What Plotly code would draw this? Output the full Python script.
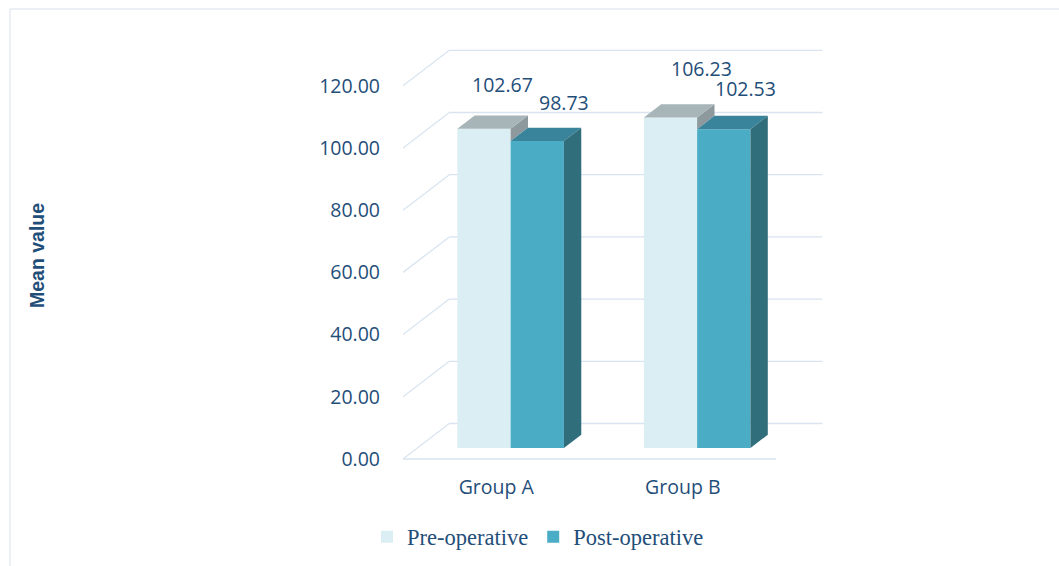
import plotly.graph_objects as go

# ---- data -------------------------------------------------------------
groups = ["Group A", "Group B"]
series_names = ["Pre-operative", "Post-operative"]
pre_values = [102.67, 106.23]
post_values = [98.73, 102.53]
y_tick_values = [0, 20, 40, 60, 80, 100, 120]

# ---- styling ------------------------------------------------------------
TEXT_BLUE = "#1F4E79"
GRID_COLOR = "#D9E4F1"
FRAME_COLOR = "#D9E1EC"
FACE_COLORS = {
    "Pre-operative": {"front": "#DBEEF4", "top": "#A7B4B8", "side": "#8D999C"},
    "Post-operative": {"front": "#4BACC6", "top": "#39849A", "side": "#306E7C"},
}
SANS = "Open Sans"

# ---- page geometry (pixels) -------------------------------------------------
FIG_W, FIG_H = 1059, 566
PLOT_L, PLOT_R, PLOT_T, PLOT_B = 403, 832, 30, 470
FLOOR_PX = 459                       # pixel row of value 0 on the front plane
X_RANGE = (-0.5, 1.8)
PX_PER_X = (PLOT_R - PLOT_L) / (X_RANGE[1] - X_RANGE[0])
PX_PER_Y = 3.11
Y_RANGE = (-(PLOT_B - FLOOR_PX) / PX_PER_Y, (FLOOR_PX - PLOT_T) / PX_PER_Y)

# oblique projection of the chart depth (full floor depth)
DEPTH_DX = 46.3 / PX_PER_X
DEPTH_DY = 35.5 / PX_PER_Y
BAR_W = 53.3 / PX_PER_X
BAR_FRONT = 0.31                     # depth fraction of the bars' front faces
BAR_DEPTH = 0.375                    # depth fraction occupied by each bar


def paper_x(px):
    return (px - PLOT_L) / (PLOT_R - PLOT_L)


def paper_y(py):
    return (PLOT_B - py) / (PLOT_B - PLOT_T)


fig = go.Figure()

# ---- walls: left-side diagonals, back-wall grid and the front floor edge ----
floor_left, floor_right = -0.5, 1.5
shapes = []
for v in y_tick_values:
    shapes.append(dict(type="line", xref="x", yref="y", layer="below",
                       x0=floor_left, y0=v,
                       x1=floor_left + DEPTH_DX, y1=v + DEPTH_DY,
                       line=dict(color=GRID_COLOR, width=1.3)))
    shapes.append(dict(type="line", xref="x", yref="y", layer="below",
                       x0=floor_left + DEPTH_DX, y0=v + DEPTH_DY,
                       x1=floor_right + DEPTH_DX, y1=v + DEPTH_DY,
                       line=dict(color=GRID_COLOR, width=1.3)))
shapes.append(dict(type="line", xref="x", yref="y", layer="below",
                   x0=floor_left, y0=0, x1=floor_right, y1=0,
                   line=dict(color=GRID_COLOR, width=1.3)))

# outer chart frame
shapes.append(dict(type="rect", xref="paper", yref="paper", layer="below",
                   x0=paper_x(10), y0=paper_y(600), x1=paper_x(1100), y1=paper_y(9),
                   line=dict(color=FRAME_COLOR, width=1), fillcolor="rgba(0,0,0,0)"))

# ---- bars ----------------------------------------------------------------
fx = BAR_FRONT * DEPTH_DX
fy = BAR_FRONT * DEPTH_DY
bdx = BAR_DEPTH * DEPTH_DX
bdy = BAR_DEPTH * DEPTH_DY
positions = list(range(len(groups)))

series = [("Pre-operative", pre_values, -1), ("Post-operative", post_values, 0)]

# front faces
for name, values, slot in series:
    lefts = [g + slot * BAR_W + fx for g in positions]
    fig.add_trace(go.Bar(
        name=name,
        x=[l + BAR_W / 2 for l in lefts],
        y=values,
        base=[fy] * len(values),
        width=BAR_W,
        marker=dict(color=FACE_COLORS[name]["front"], line=dict(width=0)),
        hoverinfo="skip",
    ))


def face(xs, ys, color):
    fig.add_trace(go.Scatter(x=xs + [xs[0]], y=ys + [ys[0]], mode="lines",
                             fill="toself", fillcolor=color,
                             line=dict(width=0, color=color),
                             showlegend=False, hoverinfo="skip"))


# top and side faces, painted back-to-front within each group
for g in positions:
    pre_v, post_v = pre_values[g], post_values[g]
    # pre-operative bar: only the side part above the neighbour is visible
    xl = g - BAR_W + fx
    xr = xl + BAR_W
    top = fy + pre_v
    bottom = fy + min(pre_v, post_v)
    face([xr, xr, xr + bdx, xr + bdx], [bottom, top, top + bdy, bottom + bdy],
         FACE_COLORS["Pre-operative"]["side"])
    face([xl, xr, xr + bdx, xl + bdx], [top, top, top + bdy, top + bdy],
         FACE_COLORS["Pre-operative"]["top"])
    # post-operative bar
    xl = g + fx
    xr = xl + BAR_W
    top = fy + post_v
    face([xl, xr, xr + bdx, xl + bdx], [top, top, top + bdy, top + bdy],
         FACE_COLORS["Post-operative"]["top"])
    face([xr, xr, xr + bdx, xr + bdx], [fy, top, top + bdy, fy + bdy],
         FACE_COLORS["Post-operative"]["side"])

# ---- value labels, anchored on the back edge of each bar top ---------------
label_nudges = {("Pre-operative", 0): (1, 31), ("Post-operative", 0): (9, 25),
                ("Pre-operative", 1): (14, 36), ("Post-operative", 1): (4, 27)}
annotations = []
depth_back_x = (BAR_FRONT + BAR_DEPTH) * DEPTH_DX
depth_back_y = (BAR_FRONT + BAR_DEPTH) * DEPTH_DY
for name, values, slot in series:
    for g, v in zip(positions, values):
        nx, ny = label_nudges[(name, g)]
        annotations.append(dict(
            x=g + slot * BAR_W + BAR_W / 2 + depth_back_x,
            y=v + depth_back_y,
            xref="x", yref="y", text=f"{v:.2f}", showarrow=False,
            xanchor="center", yanchor="middle", xshift=nx, yshift=ny,
            font=dict(family=SANS, size=19.5, color=TEXT_BLUE)))

# vertical axis title
annotations.append(dict(
    x=paper_x(37), y=paper_y(256), xref="paper", yref="paper",
    text="<b>Mean value</b>", textangle=-90, showarrow=False,
    xanchor="center", yanchor="middle",
    font=dict(family="Liberation Sans", size=19.5, color=TEXT_BLUE)))

fig.update_layout(
    width=FIG_W, height=FIG_H,
    margin=dict(l=PLOT_L, r=FIG_W - PLOT_R, t=PLOT_T, b=FIG_H - PLOT_B,
                autoexpand=False),
    paper_bgcolor="white", plot_bgcolor="rgba(0,0,0,0)",
    barmode="overlay",
    shapes=shapes,
    annotations=annotations,
    showlegend=True,
    legend=dict(orientation="h", x=paper_x(367), y=paper_y(537),
                xanchor="left", yanchor="middle",
                font=dict(family="Liberation Serif", size=22.5, color=TEXT_BLUE),
                bgcolor="rgba(0,0,0,0)", itemclick=False, itemdoubleclick=False),
    xaxis=dict(range=list(X_RANGE), tickvals=positions, ticktext=groups,
               showgrid=False, zeroline=False, showline=False, ticks="",
               ticklabelstandoff=3, fixedrange=True,
               tickfont=dict(family=SANS, size=19.5, color=TEXT_BLUE)),
    yaxis=dict(range=list(Y_RANGE), tickvals=y_tick_values, tickformat=".2f",
               showgrid=False, zeroline=False, showline=False, ticks="",
               ticklabelstandoff=22, fixedrange=True,
               tickfont=dict(family=SANS, size=19.5, color=TEXT_BLUE)),
)

fig.write_html("out.html")
